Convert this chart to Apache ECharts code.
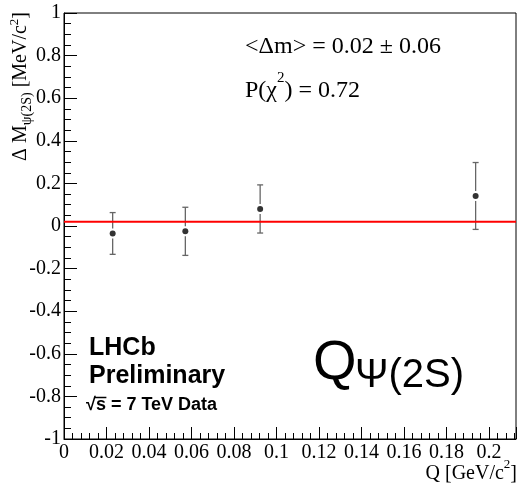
<!DOCTYPE html>
<html>
<head>
<meta charset="utf-8">
<script src="https://cdn.jsdelivr.net/npm/echarts@6/dist/echarts.min.js"></script>
<style>
html,body{margin:0;padding:0;background:#fff;}
#chart{width:519px;height:485px;}
</style>
</head>
<body>
<div id="chart"></div>
<script>
// ---- data ----
const qValues = [0.0229, 0.0571, 0.0923, 0.1937];
const deltaM = [-0.035, -0.025, 0.080, 0.141];
const deltaMErr = [0.098, 0.113, 0.113, 0.157];
const fitValue = 0.02;
const xMin = 0, xMax = 0.2127, xStep = 0.02, xMinorStep = 0.004;
const yMin = -1, yMax = 1, yStep = 0.2, yMinorStep = 0.05;
const yTickLabels = ['-1','-0.8','-0.6','-0.4','-0.2','0','0.2','0.4','0.6','0.8','1'];
const xTickLabels = ['0','0.02','0.04','0.06','0.08','0.1','0.12','0.14','0.16','0.18','0.2'];

const serif = '"Liberation Serif","Times New Roman",serif';
const sans = '"Liberation Sans",Arial,Helvetica,sans-serif';

function labelFor(v, step, labels, min) {
  const k = Math.round((v - min) / step);
  if (Math.abs(min + k * step - v) > 1e-6) return '';
  return labels[k] !== undefined ? labels[k] : '';
}

const points = qValues.map((q, i) => [q, deltaM[i], deltaMErr[i]]);

// measure sqrt glyph for the overline over "s"
const mctx = document.createElement('canvas').getContext('2d');
mctx.font = 'bold 18px ' + sans;
const wSqrt = mctx.measureText('√').width;
const wSqrtS = mctx.measureText('√s').width;
const lumiLeft = 86, lumiTop = 396;

const chart = echarts.init(document.getElementById('chart'), null, {renderer: 'canvas'});
const option = {
  backgroundColor: '#fff',
  animation: false,
  grid: {left: 64, top: 13, right: 2, bottom: 46, show: true, borderColor: '#000', borderWidth: 1, backgroundColor: 'transparent'},
  xAxis: [{
    type: 'value', min: xMin, max: xMax, interval: xStep,
    axisLine: {show: true, onZero: false, lineStyle: {color: '#000', width: 1}},
    axisTick: {show: true, inside: true, length: 12, lineStyle: {color: '#000'}},
    axisLabel: {margin: 4, color: '#000', fontFamily: serif, fontSize: 20,
      formatter: v => labelFor(v, xStep, xTickLabels, xMin)},
    splitLine: {show: false}
  }, {
    type: 'value', min: xMin, max: xMax, interval: xMinorStep, position: 'bottom',
    axisLine: {show: false, onZero: false},
    axisTick: {show: true, inside: true, length: 6, lineStyle: {color: '#000'}},
    axisLabel: {show: false}, splitLine: {show: false}
  }],
  yAxis: [{
    type: 'value', min: yMin, max: yMax, interval: yStep,
    axisLine: {show: true, onZero: false, lineStyle: {color: '#000', width: 1}},
    axisTick: {show: true, inside: true, length: 13, lineStyle: {color: '#000'}},
    axisLabel: {margin: 3, color: '#000', fontFamily: serif, fontSize: 20,
      formatter: v => labelFor(v, yStep, yTickLabels, yMin)},
    splitLine: {show: false}
  }, {
    type: 'value', min: yMin, max: yMax, interval: yMinorStep, position: 'left',
    axisLine: {show: false, onZero: false},
    axisTick: {show: true, inside: true, length: 7, lineStyle: {color: '#000'}},
    axisLabel: {show: false}, splitLine: {show: false}
  }],
  series: [
    {
      type: 'custom', xAxisIndex: 0, yAxisIndex: 0, z: 2,
      data: points,
      renderItem: function (params, api) {
        const x = api.value(0), y = api.value(1), e = api.value(2);
        const c = api.coord([x, y]);
        const t = api.coord([x, y + e]);
        const b = api.coord([x, y - e]);
        const gap = 5, cap = 3;
        const st = {stroke: '#666', lineWidth: 1.3};
        return {type: 'group', children: [
          {type: 'line', shape: {x1: c[0], y1: t[1], x2: c[0], y2: c[1] - gap}, style: st},
          {type: 'line', shape: {x1: c[0], y1: c[1] + gap, x2: c[0], y2: b[1]}, style: st},
          {type: 'line', shape: {x1: c[0] - cap, y1: t[1], x2: c[0] + cap, y2: t[1]}, style: st},
          {type: 'line', shape: {x1: c[0] - cap, y1: b[1], x2: c[0] + cap, y2: b[1]}, style: st}
        ]};
      }
    },
    {
      type: 'line', xAxisIndex: 0, yAxisIndex: 0, z: 3,
      data: [[xMin, fitValue], [xMax, fitValue]],
      showSymbol: false, symbol: 'none',
      lineStyle: {color: '#ff0000', width: 2}
    },
    {
      type: 'scatter', xAxisIndex: 0, yAxisIndex: 0, z: 4,
      data: points.map(p => [p[0], p[1]]),
      symbol: 'circle', symbolSize: 6,
      itemStyle: {color: '#000'}
    }
  ],
  graphic: [
    {type: 'text', left: 245, top: 35, z: 10, style: {text: '<Δm> = 0.02 ± 0.06', font: '24px ' + serif, fill: '#000'}},
    {type: 'text', left: 245, top: 71, z: 10, style: {
      text: '{a|P(χ}{s|2}{a|) = 0.72}', fill: '#000',
      rich: {a: {fontFamily: serif, fontSize: 24, verticalAlign: 'bottom', lineHeight: 32},
             s: {fontFamily: serif, fontSize: 15, verticalAlign: 'top', lineHeight: 32}}
    }},
    {type: 'text', left: 89, top: 336, z: 10, style: {text: 'LHCb', font: 'bold 25px ' + sans, fill: '#000'}},
    {type: 'text', left: 89, top: 364, z: 10, style: {text: 'Preliminary', font: 'bold 25px ' + sans, fill: '#000'}},
    {type: 'text', left: lumiLeft, top: lumiTop, z: 10, style: {text: '√s = 7 TeV Data', font: 'bold 18px ' + sans, fill: '#000'}},
    {type: 'line', z: 10, shape: {x1: lumiLeft + wSqrt - 1, y1: lumiTop + 1.5, x2: lumiLeft + wSqrtS + 0.5, y2: lumiTop + 1.5}, style: {stroke: '#000', lineWidth: 1.5}},
    {type: 'text', left: 313, top: 336, z: 10, style: {text: 'Q', font: '56px ' + sans, fill: '#000'}},
    {type: 'text', left: 355, top: 356, z: 10, style: {text: 'Ψ(2S)', font: '40px ' + sans, fill: '#000'}},
    {type: 'text', right: 2, top: 458, z: 10, style: {
      text: '{a|Q [GeV/c}{s|2}{a|]}', fill: '#000',
      rich: {a: {fontFamily: serif, fontSize: 20, verticalAlign: 'bottom', lineHeight: 26},
             s: {fontFamily: serif, fontSize: 13, verticalAlign: 'top', lineHeight: 26}}
    }},
    {type: 'text', x: 21, y: 12, rotation: Math.PI / 2, z: 10, style: {
      text: '{a|Δ M}{b|ψ(2S)}{a| [MeV/c}{s|2}{a|]}', fill: '#000', align: 'right', verticalAlign: 'middle',
      rich: {a: {fontFamily: serif, fontSize: 20, verticalAlign: 'middle', lineHeight: 26},
             b: {fontFamily: serif, fontSize: 14, verticalAlign: 'bottom', lineHeight: 26},
             s: {fontFamily: serif, fontSize: 13, verticalAlign: 'top', lineHeight: 26}}
    }}
  ]
};
chart.setOption(option);
</script>
</body>
</html>
